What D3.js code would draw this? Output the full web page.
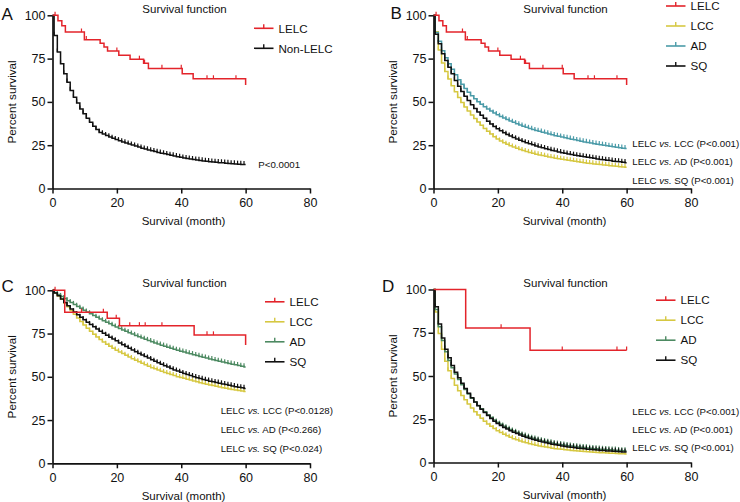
<!DOCTYPE html>
<html><head><meta charset="utf-8">
<script src="https://cdn.jsdelivr.net/npm/d3@7"></script>
<style>
body{margin:0;background:#fff;}
svg{display:block;font-family:Arial,"Liberation Sans",Helvetica,sans-serif;}
</style></head><body>
<svg id="chart" width="740" height="502"></svg>
<script>
// ---------------- DATA ----------------
const xTicks = [0, 20, 40, 60, 80];
const yTicks = [0, 25, 50, 75, 100];
const panelLetters = ["A", "B", "C", "D"];
const titleText = "Survival function";
const xTitle = "Survival (month)";
const yTitle = "Percent survival";
const legendA = ["LELC", "Non-LELC"];
const legendBCD = ["LELC", "LCC", "AD", "SQ"];
const compareGroups = ["LCC", "AD", "SQ"];
const pA = "P<0.0001";
const pB = ["P<0.001", "P<0.001", "P<0.001"];
const pC = ["P<0.0128", "P<0.266", "P<0.024"];
const pD = ["P<0.001", "P<0.001", "P<0.001"];

// monthly event times (months) for the large cohorts
const eventMonths = [0.5,1.5,2.5,3.5,4.5,5.5,6.5,7.5,8.5,9.5,10.5,11.5,12.5,13.5,14.5,15.5,16.5,17.5,18.5,19.5,
  20.5,21.5,22.5,23.5,24.5,25.5,26.5,27.5,28.5,29.5,30.5,31.5,32.5,33.5,34.5,35.5,36.5,37.5,38.5,39.5,
  40.5,41.5,42.5,43.5,44.5,45.5,46.5,47.5,48.5,49.5,50.5,51.5,52.5,53.5,54.5,55.5,56.5,57.5,58.5,59.5];

// LELC step curves [month, percent] and censored months
const lelcStepsAB = [[0,100],[1.7,96.8],[2.9,94.0],[4.0,90.3],[9.9,85.9],[14.8,83.8],[16.0,81.7],[17.1,79.4],
  [20.6,77.0],[24.1,74.6],[28.3,72.3],[29.8,69.3],[40.3,66.3],[43.7,63.3],[60,59.8]];
const lelcCensorAB = [0.8, 9, 10.5, 20, 27, 28.6, 34, 40, 48, 50, 57];
const lelcStepsC = [[0,100],[3.8,87.3],[17.0,83.8],[20.8,79.5],[44.0,74.2],[60,68.4]];
const lelcCensorC = [0.8, 9, 15.8, 19.8, 24, 27, 28.8, 34, 48, 50];
const lelcStepsD = [[0,100],[10,77.8],[30,64.9],[60,64.9]];
const lelcCensorD = [21, 40, 57, 60];

// Panel A
const nonLelcA = [88.4,78.8,72.0,66.2,61.4,56.6,52.7,49.4,45.9,43.1,
  40.5,38.2,35.9,34.0,32.4,31.5,30.6,29.8,29.0,28.3,
  27.6,26.9,26.3,25.7,25.1,24.5,23.9,23.3,22.8,22.3,
  21.8,21.3,20.8,20.4,20.0,19.6,19.2,18.8,18.4,18.0,
  17.6,17.3,17.0,16.7,16.4,16.2,15.9,15.7,15.5,15.3,
  15.1,14.9,14.8,14.6,14.5,14.3,14.2,14.0,13.9,13.8];

// Panel B
const lccB = [90.5,80.0,72.5,67.5,63.2,59.3,55.8,52.6,49.7,47.1,
  44.7,42.5,40.4,38.4,36.5,34.7,33.0,31.4,29.9,28.6,
  27.4,26.4,25.5,24.7,23.9,23.2,22.5,21.9,21.3,20.8,
  20.3,19.8,19.4,19.0,18.6,18.2,17.9,17.5,17.2,16.9,
  16.6,16.3,16.0,15.7,15.4,15.1,14.9,14.6,14.4,14.2,
  14.0,13.8,13.6,13.4,13.2,13.0,12.8,12.6,12.4,12.2];
const adB = [90.0,85.0,79.5,75.5,72.0,68.8,65.7,62.8,60.2,57.8,
  55.6,53.6,51.8,50.1,48.6,47.2,45.9,44.7,43.6,42.6,
  41.6,40.7,39.8,39.0,38.2,37.4,36.7,36.0,35.3,34.7,
  34.1,33.5,33.0,32.5,32.0,31.5,31.0,30.5,30.1,29.7,
  29.3,28.9,28.5,28.1,27.7,27.3,26.9,26.6,26.2,25.9,
  25.6,25.3,25.0,24.7,24.4,24.1,23.8,23.6,23.3,23.1];
const sqB = [89.0,83.6,77.8,73.9,70.0,66.2,62.4,59.0,56.0,53.3,
  50.8,48.4,46.2,44.2,42.3,40.5,38.8,37.2,35.8,34.5,
  33.3,32.2,31.2,30.3,29.4,28.6,27.8,27.1,26.4,25.8,
  25.2,24.6,24.0,23.5,23.0,22.5,22.0,21.6,21.1,20.7,
  20.3,19.9,19.6,19.2,18.9,18.6,18.3,18.0,17.7,17.4,
  17.1,16.8,16.6,16.3,16.1,15.8,15.6,15.4,15.1,14.9];

// Panel C
const lccC = [98.5,96.7,94.8,92.7,90.5,88.3,86.1,84.0,82.0,80.0,
  78.1,76.3,74.6,73.0,71.5,70.1,68.8,67.6,66.5,65.4,
  64.4,63.4,62.4,61.4,60.5,59.6,58.7,57.8,56.9,56.1,
  55.3,54.6,53.9,53.2,52.5,51.9,51.3,50.7,50.1,49.6,
  49.1,48.6,48.1,47.6,47.1,46.6,46.1,45.7,45.3,44.9,
  44.5,44.1,43.7,43.4,43.0,42.7,42.4,42.1,41.8,41.5];
const adC = [98.8,97.6,96.4,95.2,94.0,92.9,91.8,90.7,89.6,88.5,
  87.4,86.4,85.4,84.4,83.4,82.4,81.5,80.6,79.7,78.8,
  77.9,77.1,76.3,75.5,74.7,73.9,73.1,72.4,71.7,71.0,
  70.3,69.6,68.9,68.3,67.7,67.1,66.5,65.9,65.3,64.8,
  64.3,63.8,63.3,62.8,62.3,61.8,61.3,60.8,60.3,59.9,
  59.4,59.0,58.5,58.1,57.7,57.3,56.9,56.5,56.1,55.7];
const sqC = [98.5,96.8,95.0,93.0,91.0,89.2,87.5,85.9,84.4,83.0,
  81.6,80.2,78.9,77.6,76.4,75.2,74.0,72.9,71.8,70.8,
  69.5,68.5,67.5,66.5,65.5,64.5,63.5,62.6,61.7,60.8,
  59.9,59.0,58.1,57.2,56.4,55.6,54.8,54.0,53.3,52.6,
  51.9,51.3,50.7,50.1,49.5,49.0,48.5,48.0,47.5,47.1,
  46.7,46.3,45.9,45.5,45.1,44.7,44.3,43.9,43.6,43.3];

// Panel D
const lccD = [87.0,74.5,65.5,58.5,53.0,48.5,44.6,41.5,38.8,36.2,
  33.8,31.5,29.4,27.4,25.6,23.9,22.3,20.9,19.6,18.4,
  17.3,16.3,15.4,14.6,13.8,13.1,12.5,11.9,11.4,10.9,
  10.4,10.0,9.6,9.2,8.9,8.6,8.3,8.0,7.8,7.6,
  7.4,7.2,7.0,6.8,6.6,6.5,6.3,6.2,6.0,5.9,
  5.8,5.7,5.6,5.5,5.4,5.3,5.2,5.1,5.0,4.9];
const adD = [88.5,78.5,70.5,64.0,59.0,54.8,51.2,48.0,45.0,42.2,
  39.6,37.2,35.0,33.0,31.1,29.3,27.6,26.0,24.6,23.3,
  22.1,21.0,20.0,19.1,18.2,17.4,16.6,15.9,15.2,14.6,
  14.0,13.5,13.0,12.5,12.1,11.7,11.3,10.9,10.6,10.3,
  10.0,9.7,9.5,9.2,9.0,8.8,8.6,8.4,8.2,8.0,
  7.9,7.7,7.6,7.4,7.3,7.2,7.1,6.9,6.8,6.7];
const sqD = [90.0,80.0,72.0,65.5,60.5,56.0,52.2,49.0,45.8,42.8,
  40.0,37.4,35.0,32.8,30.8,28.9,27.1,25.4,23.9,22.6,
  21.4,20.3,19.3,18.4,17.5,16.7,15.9,15.2,14.5,13.9,
  13.3,12.8,12.3,11.8,11.4,11.0,10.6,10.2,9.9,9.6,
  9.3,9.0,8.8,8.5,8.3,8.1,7.9,7.7,7.5,7.3,
  7.2,7.0,6.9,6.7,6.6,6.5,6.4,6.2,6.1,6.0];

// ---------------- STYLE ----------------
const RED = "#e3242b", BLACK = "#111111", YELLOW = "#d6c842", TEAL = "#4b9ba8", GREEN = "#4d8a62";

// ---------------- DRAW ----------------
const svg = d3.select("#chart");

function levelAt(steps, t) {
  let v = steps[0][1];
  steps.forEach(s => { if (s[0] <= t) v = s[1]; });
  return v;
}

function drawPanel(p) {
  const x = d3.scaleLinear().domain([0, 80]).range([p.left, p.left + 257.5]);
  const y = d3.scaleLinear().domain([0, 100]).range([p.bottom, p.top]);
  const g = svg.append("g");
  const line = d3.line().x(d => x(d[0])).y(d => y(d[1])).curve(d3.curveStepAfter);

  const order = p.series.slice(1).concat([p.series[0]]);
  order.forEach(s => {
    let pts, ticks;
    if (s.values) {
      pts = [[0, 100]].concat(eventMonths.map((t, i) => [t, s.values[i]]));
      pts.push([60, s.values[s.values.length - 1]]);
      ticks = eventMonths.map((t, i) => [t, s.values[i]]);
    } else {
      pts = s.steps;
      ticks = s.censored.map(t => [t, levelAt(s.steps, t)]);
    }
    g.append("path").attr("d", line(pts)).attr("fill", "none")
      .attr("stroke", s.color).attr("stroke-width", 1.5);
    g.append("g").selectAll("line").data(ticks).join("line")
      .attr("x1", d => x(d[0])).attr("x2", d => x(d[0]))
      .attr("y1", d => y(d[1])).attr("y2", d => y(d[1]) - 3.6)
      .attr("stroke", s.color).attr("stroke-width", 1.2);
  });

  // axes
  const xa = g.append("g").attr("transform", `translate(0,${p.bottom})`)
    .call(d3.axisBottom(x).tickValues(xTicks).tickSize(5).tickSizeOuter(0).tickPadding(4.5));
  const ya = g.append("g").attr("transform", `translate(${p.left},0)`)
    .call(d3.axisLeft(y).tickValues(yTicks).tickSize(5).tickSizeOuter(0).tickPadding(2));
  [xa, ya].forEach(a => {
    a.select(".domain").attr("stroke", BLACK).attr("stroke-width", 1.7);
    a.selectAll(".tick line").attr("stroke", BLACK).attr("stroke-width", 1.5);
    a.selectAll(".tick text").attr("fill", BLACK).style("font-size", "12.5px")
      .style("font-family", "Arial, 'Liberation Sans', sans-serif");
  });

  // panel letter
  g.append("text").attr("x", p.letterX).attr("y", p.letterY).text(p.letter)
    .style("font-size", "17px").attr("fill", BLACK);
  // title
  g.append("text").attr("x", p.left + 132).attr("y", p.titleY).attr("text-anchor", "middle")
    .style("font-size", "11.5px").attr("fill", BLACK).text(titleText);
  // x title
  g.append("text").attr("x", p.left + 131).attr("y", p.bottom + 36.5).attr("text-anchor", "middle")
    .style("font-size", "11.5px").attr("fill", BLACK).text(xTitle);
  // y title
  g.append("text").attr("transform", `translate(${p.left - 36.5},${(p.top + p.bottom) / 2}) rotate(-90)`)
    .attr("text-anchor", "middle").style("font-size", "11.7px").attr("fill", BLACK).text(yTitle);

  // legend
  p.series.forEach((s, i) => {
    const ly = p.legY + i * 20;
    g.append("line").attr("x1", p.legX).attr("x2", p.legX + 19.5).attr("y1", ly).attr("y2", ly)
      .attr("stroke", s.color).attr("stroke-width", 1.6);
    g.append("line").attr("x1", p.legX + 9.75).attr("x2", p.legX + 9.75).attr("y1", ly).attr("y2", ly - 4)
      .attr("stroke", s.color).attr("stroke-width", 1.4);
    g.append("text").attr("x", p.legX + 24.5).attr("y", ly + 4.2).style("font-size", "11.6px")
      .attr("fill", BLACK).text(s.name);
  });

  // comparison texts
  if (p.pvals) {
    p.pvals.forEach((pv, i) => {
      const t = g.append("text").attr("x", p.cmpX).attr("y", p.cmpY + i * p.cmpGap)
        .style("font-size", "9.7px").attr("fill", BLACK);
      t.append("tspan").text("LELC ");
      t.append("tspan").style("font-style", "italic").text("vs.");
      t.append("tspan").text(` ${compareGroups[i]} (${pv})`);
    });
  }
  if (p.single) {
    g.append("text").attr("x", p.single.x).attr("y", p.single.y).style("font-size", "9.7px")
      .attr("fill", BLACK).text(p.single.text);
  }
}

const panels = [
  { letter: panelLetters[0], left: 52.5, top: 15.3, bottom: 188.5, letterX: 1.5, letterY: 20, titleY: 12.7,
    legX: 254, legY: 28.3,
    series: [
      { name: legendA[0], color: RED, steps: lelcStepsAB, censored: lelcCensorAB },
      { name: legendA[1], color: BLACK, values: nonLelcA }
    ],
    single: { x: 258.3, y: 167.7, text: pA } },
  { letter: panelLetters[1], left: 433.5, top: 15.3, bottom: 188.5, letterX: 390.5, letterY: 18.5, titleY: 12.7,
    legX: 666, legY: 6, cmpX: 632.3, cmpY: 146.7, cmpGap: 18.7, pvals: pB,
    series: [
      { name: legendBCD[0], color: RED, steps: lelcStepsAB, censored: lelcCensorAB },
      { name: legendBCD[1], color: YELLOW, values: lccB },
      { name: legendBCD[2], color: TEAL, values: adB },
      { name: legendBCD[3], color: BLACK, values: sqB }
    ] },
  { letter: panelLetters[2], left: 52.5, top: 290.3, bottom: 463.3, letterX: 1.5, letterY: 291.7, titleY: 286.7,
    legX: 265, legY: 301.8, cmpX: 220.7, cmpY: 414.3, cmpGap: 18.9, pvals: pC,
    series: [
      { name: legendBCD[0], color: RED, steps: lelcStepsC, censored: lelcCensorC },
      { name: legendBCD[1], color: YELLOW, values: lccC },
      { name: legendBCD[2], color: GREEN, values: adC },
      { name: legendBCD[3], color: BLACK, values: sqC }
    ] },
  { letter: panelLetters[3], left: 433.5, top: 289.5, bottom: 462.5, letterX: 382, letterY: 291.7, titleY: 286.7,
    legX: 656, legY: 300.2, cmpX: 632.3, cmpY: 414.7, cmpGap: 18.3, pvals: pD,
    series: [
      { name: legendBCD[0], color: RED, steps: lelcStepsD, censored: lelcCensorD },
      { name: legendBCD[1], color: YELLOW, values: lccD },
      { name: legendBCD[2], color: GREEN, values: adD },
      { name: legendBCD[3], color: BLACK, values: sqD }
    ] }
];

panels.forEach(drawPanel);
</script>
</body></html>
